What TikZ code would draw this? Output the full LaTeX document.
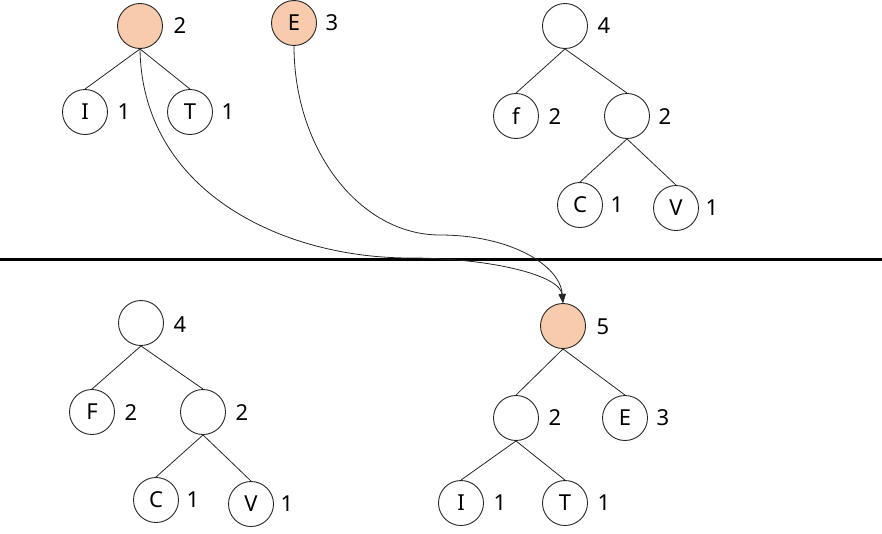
\documentclass[tikz,border=0pt]{standalone}
\usepackage{fontspec}
\setmainfont{Noto Sans}
\usetikzlibrary{arrows.meta}
\begin{document}
\begin{tikzpicture}[x=1pt,y=-1pt,
  nd/.style={circle,draw=black!85,line width=0.9pt,minimum size=45pt,inner sep=0pt,font=\fontsize{22}{26}\selectfont},
  hot/.style={nd,fill=peach},
  lbl/.style={inner sep=0pt,font=\fontsize{22}{26}\selectfont},
  edge/.style={draw=black!85,line width=0.8pt},
  flow/.style={draw=black!85,line width=0.8pt,-{Triangle[length=9pt,width=7pt]}}]
\definecolor{peach}{HTML}{F8CBAD}
\useasboundingbox (0,0) rectangle (882,533);
% top-left tree
\node[hot] (a) at (140,26) {};
\node[lbl] (la) at (180,26) {2};
\node[nd] (ai) at (85,112) {I};
\node[lbl] (lai) at (124,112) {1};
\node[nd] (at) at (190,112) {T};
\node[lbl] (lat) at (228,112) {1};
\draw[edge] (a.south) -- (ai.north);
\draw[edge] (a.south) -- (at.north);
% E
\node[hot] (e) at (294,23) {E};
\node[lbl] (le) at (332,23) {3};
% top-right tree
\node[nd] (b) at (565,26) {};
\node[lbl] (lb) at (604,26) {4};
\node[nd] (bf) at (516,116) {f};
\node[lbl] (lbf) at (555,117) {2};
\node[nd] (bi) at (627,116) {};
\node[lbl] (lbi) at (665,117) {2};
\node[nd] (bc) at (580,205) {C};
\node[lbl] (lbc) at (617,205) {1};
\node[nd] (bv) at (676,208) {V};
\node[lbl] (lbv) at (712,208) {1};
\draw[edge] (b.south) -- (bf.north);
\draw[edge] (b.south) -- (bi.north);
\draw[edge] (bi.south) -- (bc.north);
\draw[edge] (bi.south) -- (bv.north);
% separator
\coordinate (s1) at (0,259);
\coordinate (s2) at (882,259);
\draw[line width=3pt] (s1) -- (s2);
% bottom-left tree
\node[nd] (c) at (141,323) {};
\node[lbl] (lc) at (180,325) {4};
\node[nd] (cf) at (92,412) {F};
\node[lbl] (lcf) at (131,413) {2};
\node[nd] (ci) at (203,412) {};
\node[lbl] (lci) at (242,413) {2};
\node[nd] (cc) at (156,500) {C};
\node[lbl] (lcc) at (193,500) {1};
\node[nd] (cv) at (251,504) {V};
\node[lbl] (lcv) at (287,504) {1};
\draw[edge] (c.south) -- (cf.north);
\draw[edge] (c.south) -- (ci.north);
\draw[edge] (ci.south) -- (cc.north);
\draw[edge] (ci.south) -- (cv.north);
% bottom-right tree
\node[hot] (d) at (563,326) {};
\node[lbl] (ld) at (603,327) {5};
\node[nd] (di) at (516,418) {};
\node[lbl] (ldi) at (555,418) {2};
\node[nd] (de) at (625,418) {E};
\node[lbl] (lde) at (663,418) {3};
\node[nd] (dii) at (461,503) {I};
\node[lbl] (ldii) at (500,503) {1};
\node[nd] (dit) at (565,503) {T};
\node[lbl] (ldit) at (604,503) {1};
\draw[edge] (d.south) -- (di.north);
\draw[edge] (d.south) -- (de.north);
\draw[edge] (di.south) -- (dii.north);
\draw[edge] (di.south) -- (dit.north);
% merge arrows
\coordinate (m1) at (410,258);
\coordinate (m2) at (440,235);
\draw[flow] (a.south) .. controls (142,190) and (280,258) .. (m1) .. controls (490,258) and (560,275) .. (d.north);
\draw[flow] (e.south) .. controls (294,150) and (360,235) .. (m2) .. controls (510,235) and (560,265) .. (d.north);
\end{tikzpicture}
\end{document}
